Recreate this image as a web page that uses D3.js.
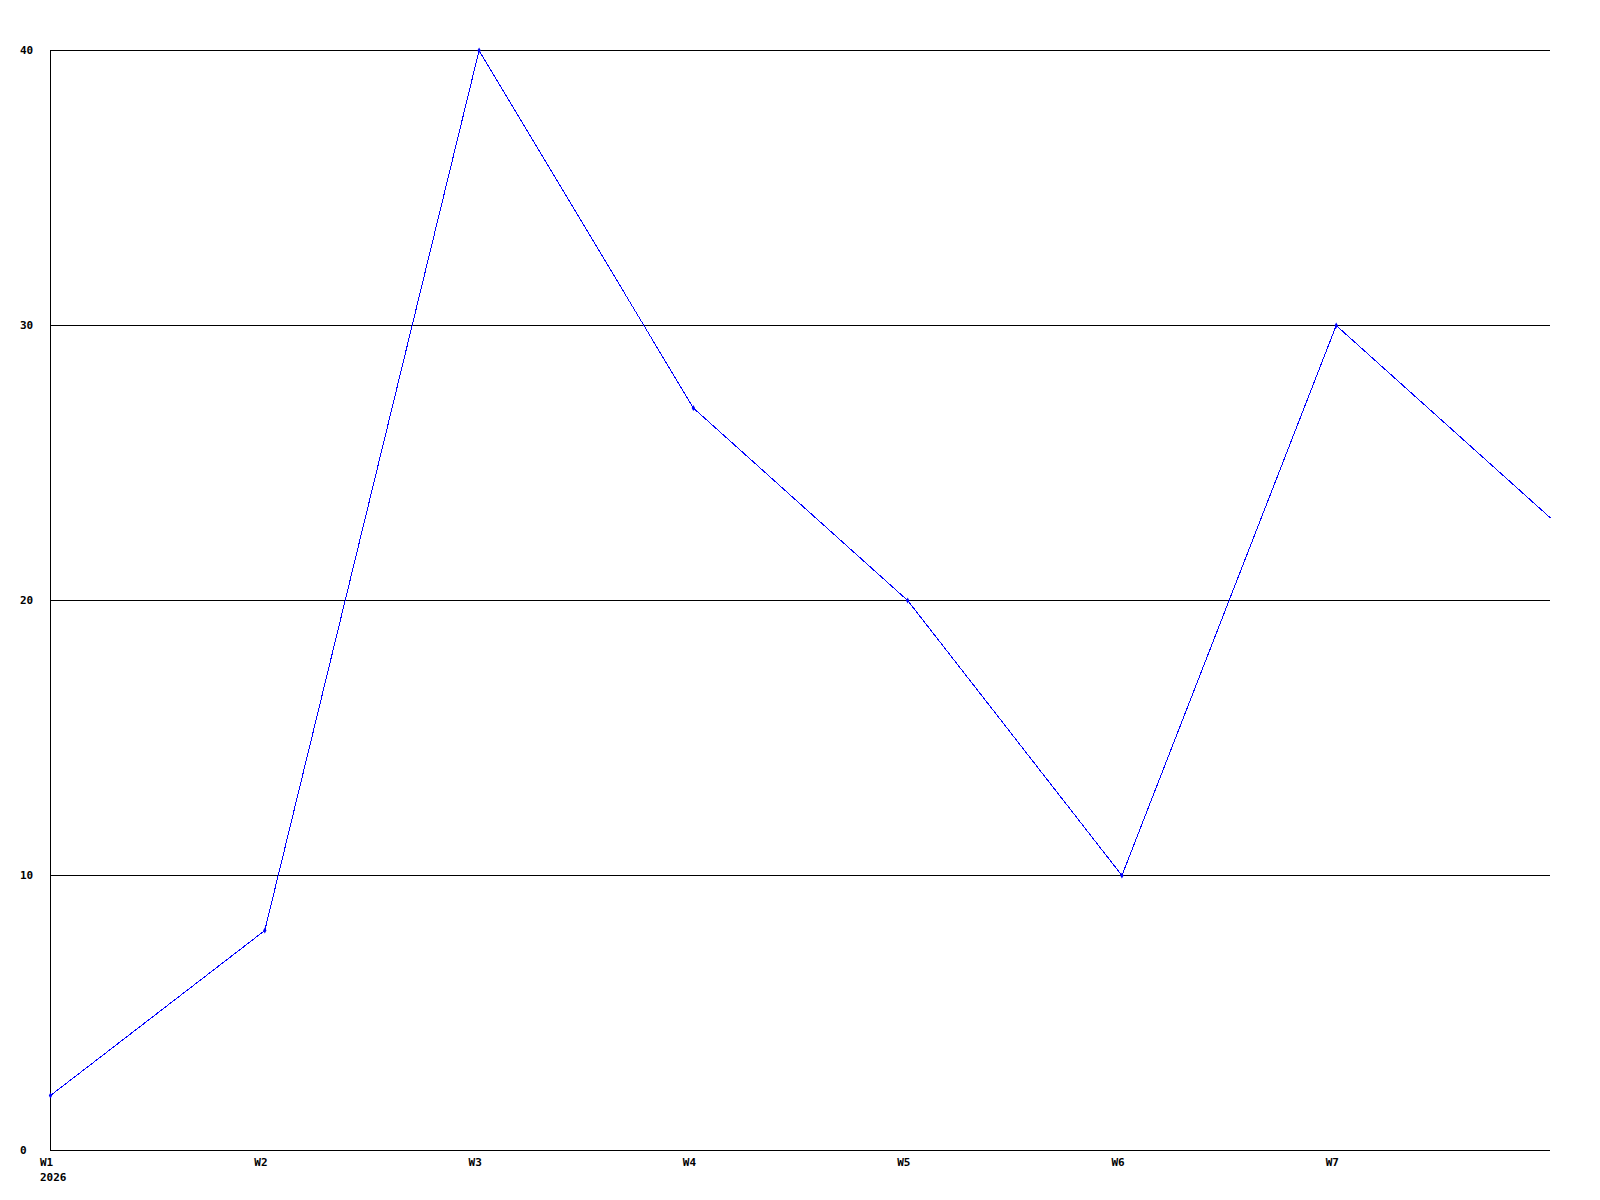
<!DOCTYPE html>
<html>
<head>
<meta charset="utf-8">
<script src="https://cdn.jsdelivr.net/npm/d3@7"></script>
<style>
html,body{margin:0;padding:0;background:#fff;}
text{font-family:"DejaVu Sans Mono",monospace;font-weight:bold;font-size:11px;fill:#000;}
</style>
</head>
<body>
<svg id="chart" width="1600" height="1200"></svg>
<script>
const categories = ["W1","W2","W3","W4","W5","W6","W7","W8"];
const values = [2, 8, 40, 27, 20, 10, 30, 23];
const xTickLabels = ["W1","W2","W3","W4","W5","W6","W7"];
const yTicks = [0, 10, 20, 30, 40];
const yearLabel = "2026";

(function () {
const svg = d3.select("#chart");
const mLeft = 50, mRight = 1550, mTop = 50, mBottom = 1150;

const x = d3.scalePoint().domain(categories).range([mLeft, mRight]);
const y = d3.scaleLinear().domain([0, 40]).range([mBottom, mTop]);

svg.append("defs").append("clipPath").attr("id", "plotclip")
  .append("rect").attr("x", 0).attr("y", 0).attr("width", mRight + 1).attr("height", 1200);

// gridlines
svg.append("g").selectAll("line").data(yTicks.filter(d => d > 0)).join("line")
  .attr("x1", mLeft).attr("x2", mRight)
  .attr("y1", d => Math.round(y(d)) + 0.5).attr("y2", d => Math.round(y(d)) + 0.5)
  .attr("stroke", "#000").attr("stroke-width", 1);

// axes lines
svg.append("line").attr("x1", mLeft + 0.5).attr("x2", mLeft + 0.5).attr("y1", mTop).attr("y2", mBottom + 1)
  .attr("stroke", "#000");
svg.append("line").attr("x1", mLeft).attr("x2", mRight).attr("y1", mBottom + 0.5).attr("y2", mBottom + 0.5)
  .attr("stroke", "#000");

// y labels
svg.append("g").selectAll("text").data(yTicks).join("text")
  .attr("x", 20).attr("y", d => y(d) + 4)
  .text(d => d);

// x labels
svg.append("g").selectAll("text").data(xTickLabels).join("text")
  .attr("x", d => x(d) - 10).attr("y", mBottom + 16)
  .text(d => d);
svg.append("text").attr("x", x(categories[0]) - 10).attr("y", mBottom + 31).text(yearLabel);

// line
const line = d3.line().x((d, i) => x(categories[i]) + 0.5).y(d => y(d) + 0.5);
svg.append("path").datum(values)
  .attr("d", line)
  .attr("fill", "none").attr("stroke", "#0000ff").attr("stroke-width", 1)
  .attr("shape-rendering", "crispEdges");

// markers
svg.append("g").attr("clip-path", "url(#plotclip)")
  .selectAll("path").data(values.slice(0, xTickLabels.length)).join("path")
  .attr("transform", (d, i) => `translate(${x(categories[i]) + 0.5},${y(d) + 0.5})`)
  .attr("d", d3.symbol().type(d3.symbolDiamond).size(10))
  .attr("fill", "#0000ff");
})();
</script>
</body>
</html>
